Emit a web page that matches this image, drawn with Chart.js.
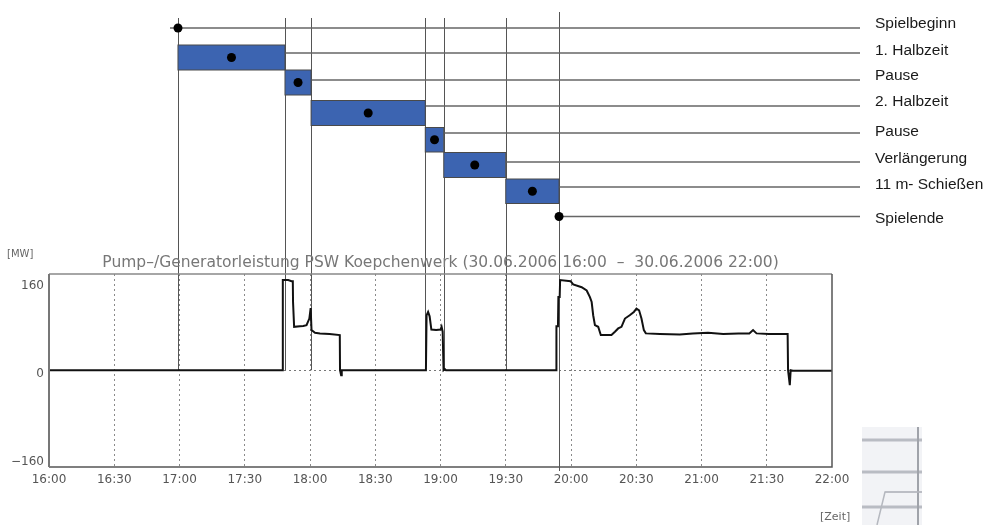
<!DOCTYPE html>
<html><head><meta charset="utf-8">
<script src="https://cdn.jsdelivr.net/npm/chart.js@4/dist/chart.umd.min.js"></script>
<style>html,body{margin:0;padding:0;background:#fff;}#wrap{width:987px;height:525px;position:relative;}</style>
</head><body><div id="wrap"><canvas id="c" width="987" height="525"></canvas></div>
<script>
// ---- data ----
const timeLabels = ['16:00','16:30','17:00','17:30','18:00','18:30','19:00','19:30','20:00','20:30','21:00','21:30','22:00'];
const yTickValues = [-160, 0, 160];
const yTickLabels = ['\u2212160', '0', '160'];
// match phases (minutes after 16:00)
const phaseNames = ['Spielbeginn','1. Halbzeit','Pause','2. Halbzeit','Pause','Verlängerung','11 m- Schießen','Spielende'];
const phaseStart = [59.3, 59.3, 108.5, 120.5, 173, 181.5, 210, 234.5];
const phaseEnd   = [59.3, 108.5, 120.5, 173, 181.5, 210, 234.5, 234.5];
const eventTimes = [59.3, 108.5, 120.5, 173, 181.5, 210, 234.5];
// pump/generator power (minutes after 16:00, MW)
const powerMinutes = [0,107.3,107.5,110,111.5,112.1,112.2,112.6,112.7,115.4,116.9,118.4,119.7,120.3,120.7,122.3,124.6,129,133.7,133.8,134.3,134.6,
  173.3,173.6,174.3,175,175.8,178,180,180.5,181,181.4,182,182.5,
  233.2,233.3,234,234.2,234.8,235,239.8,241,244.9,247.2,248.7,249.5,250.2,251,252.5,253.7,258.6,260.2,261.7,263.2,264.8,267,268.9,270.1,271.3,272.4,273.5,274.4,
  280.9,290,296,303,310,317,322,323.7,325.3,331,339.6,339.8,340.6,341,342,360];
const powerMW = [0,0,164,164,162,162,124,124,79,80,80.5,82,94,113,73,68,67,66,64,0,-9,0,
  0,100,106,98,74,73,74,79,70,0,2,0,
  0,80,80,133,133,164,162,156,151,145,133,124,100,82,79,64,64,70,76,79,94,100,106,112,109,94,73,67,
  66,65,67,68,66,67,67,73,67,66,66,0,-27,0,-1,-1];

const powerPoints = powerMinutes.map((m, i) => ({x: m, y: powerMW[i]}));

// ---- layout / style constants ----
const rowLayout = [
  {line: 28,  label: 24},
  {line: 53,  label: 51,  top: 45,    bot: 70},
  {line: 80,  label: 76,  top: 70,    bot: 95},
  {line: 106, label: 102, top: 100.5, bot: 125.5},
  {line: 133, label: 132, top: 127.5, bot: 152},
  {line: 162, label: 159, top: 152.5, bot: 177.5},
  {line: 187, label: 185, top: 179,   bot: 203.5},
  {line: 216.5, label: 219}
];

const overlay = {
  id: 'overlay',
  beforeDatasetsDraw(chart) {
    const ctx = chart.ctx, xs = chart.scales.x, ys = chart.scales.y, a = chart.chartArea;
    ctx.save();
    ctx.strokeStyle = '#555'; ctx.lineWidth = 1;
    eventTimes.forEach((t, i) => {
      const x = Math.round(xs.getPixelForValue(t)) + 0.5;
      ctx.beginPath();
      const last = i === eventTimes.length - 1;
      ctx.moveTo(x, last ? 12 : 18);
      ctx.lineTo(x, last ? a.bottom + 4 : ys.getPixelForValue(0));
      ctx.stroke();
    });
    ctx.restore();
  },
  afterDraw(chart) {
    const ctx = chart.ctx, xs = chart.scales.x, a = chart.chartArea;
    ctx.save();
    // plot frame
    ctx.strokeStyle = '#888'; ctx.lineWidth = 1.5;
    ctx.beginPath(); ctx.moveTo(a.left, a.top); ctx.lineTo(a.right, a.top); ctx.stroke();
    ctx.strokeStyle = '#555'; ctx.lineWidth = 1.5;
    ctx.beginPath(); ctx.moveTo(a.right, a.top); ctx.lineTo(a.right, a.bottom); ctx.lineTo(a.left, a.bottom); ctx.stroke();
    ctx.strokeStyle = '#777'; ctx.lineWidth = 2;
    ctx.beginPath(); ctx.moveTo(a.left, a.top); ctx.lineTo(a.left, a.bottom); ctx.stroke();

    // gantt: row lines
    const lineEndX = 860;
    ctx.strokeStyle = '#666'; ctx.lineWidth = 1.3;
    rowLayout.forEach((r, i) => {
      let x0 = xs.getPixelForValue(phaseEnd[i]);
      if (i === 0) x0 -= 8;
      ctx.beginPath(); ctx.moveTo(x0, r.line); ctx.lineTo(lineEndX, r.line); ctx.stroke();
    });
    // bars
    rowLayout.forEach((r, i) => {
      if (r.top === undefined) return;
      const x0 = xs.getPixelForValue(phaseStart[i]), x1 = xs.getPixelForValue(phaseEnd[i]);
      ctx.fillStyle = '#3c64b1';
      ctx.fillRect(x0, r.top, x1 - x0, r.bot - r.top);
      ctx.strokeStyle = '#4a4a4a'; ctx.lineWidth = 1;
      ctx.strokeRect(x0, r.top, x1 - x0, r.bot - r.top);
    });
    // dots
    ctx.fillStyle = '#000';
    rowLayout.forEach((r, i) => {
      let x, y;
      if (r.top === undefined) { x = xs.getPixelForValue(phaseStart[i]); y = r.line; }
      else { x = xs.getPixelForValue((phaseStart[i] + phaseEnd[i]) / 2); y = (r.top + r.bot) / 2; }
      ctx.beginPath(); ctx.arc(x, y, 4.5, 0, Math.PI * 2); ctx.fill();
    });
    // phase labels
    ctx.fillStyle = '#1a1a1a';
    ctx.font = '15.5px "Liberation Sans", Arial, sans-serif';
    ctx.textAlign = 'left'; ctx.textBaseline = 'middle';
    rowLayout.forEach((r, i) => ctx.fillText(phaseNames[i], 875, r.label));

    // title & units
    ctx.fillStyle = '#777';
    ctx.font = '15.5px "DejaVu Sans", sans-serif';
    ctx.textAlign = 'center';
    ctx.fillText('Pump\u2013/Generatorleistung PSW Koepchenwerk (30.06.2006 16:00  \u2013  30.06.2006 22:00)', (a.left + a.right) / 2, 263);
    ctx.font = '10px "DejaVu Sans", sans-serif';
    ctx.textAlign = 'left';
    ctx.fillStyle = '#666';
    ctx.fillText('[MW]', 7, 254);
    ctx.font = '11px "DejaVu Sans", sans-serif';
    ctx.fillText('[Zeit]', 820, 517);

    // thumbnail artefact bottom right
    ctx.fillStyle = '#f2f3f6';
    ctx.fillRect(862, 427, 60, 98);
    ctx.fillStyle = '#b9bcc3';
    [440, 472, 507].forEach(y => ctx.fillRect(862, y - 1.5, 60, 3));
    ctx.fillStyle = '#d0d2d8';
    ctx.fillRect(885, 491, 37, 2);
    ctx.strokeStyle = '#a0a3aa'; ctx.lineWidth = 2;
    ctx.beginPath(); ctx.moveTo(918, 427); ctx.lineTo(918, 525); ctx.stroke();
    ctx.lineWidth = 1.5; ctx.strokeStyle = '#b5b8bf';
    ctx.beginPath(); ctx.moveTo(922, 492); ctx.lineTo(885, 492); ctx.lineTo(877, 525); ctx.stroke();
    ctx.restore();
  }
};

new Chart(document.getElementById('c'), {
  type: 'line',
  data: {
    datasets: [{
      data: powerPoints,
      borderColor: '#111',
      borderWidth: 2,
      pointRadius: 0,
      tension: 0,
      fill: false
    }]
  },
  options: {
    responsive: false,
    animation: false,
    devicePixelRatio: 1,
    layout: {padding: {left: 0, top: 274, right: 155, bottom: 0}},
    plugins: {legend: {display: false}, tooltip: {enabled: false}, title: {display: false}},
    scales: {
      x: {
        type: 'linear', min: 0, max: 360,
        afterFit: s => { s.height = 58; },
        ticks: {
          stepSize: 30, autoSkip: false, maxRotation: 0, padding: 6,
          color: '#555', font: {family: '"DejaVu Sans", sans-serif', size: 12},
          callback: (v, i) => timeLabels[i]
        },
        grid: {
          drawTicks: false, lineWidth: 1,
          color: c => (c.tick && (c.tick.value === 0 || c.tick.value === 360)) ? 'rgba(0,0,0,0)' : '#8a8a8a'
        },
        border: {display: false, dash: [2, 3]}
      },
      y: {
        type: 'linear', min: -176, max: 175,
        afterFit: s => { s.width = 49; },
        afterBuildTicks: s => { s.ticks = yTickValues.map(v => ({value: v})); },
        ticks: {
          padding: 5, labelOffset: 3.5,
          color: '#555', font: {family: '"DejaVu Sans", sans-serif', size: 12},
          callback: v => yTickLabels[yTickValues.indexOf(v)]
        },
        grid: {
          drawTicks: false, lineWidth: 1,
          color: c => (c.tick && c.tick.value === 0) ? '#777' : 'rgba(0,0,0,0)'
        },
        border: {display: false, dash: [2, 3]}
      }
    }
  },
  plugins: [overlay]
});
</script>
</body></html>
